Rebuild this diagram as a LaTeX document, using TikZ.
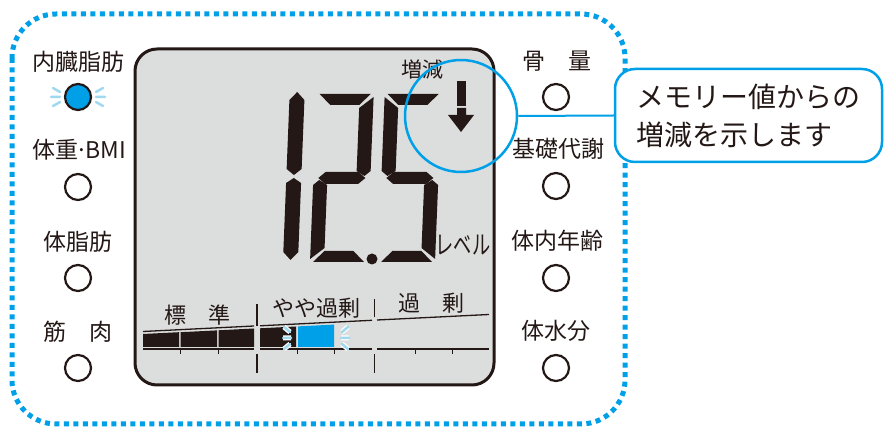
\documentclass[tikz,border=0pt]{standalone}
\usepackage{fontspec}
\setmainfont{Noto Sans CJK JP}
\usepackage{xcolor}
\definecolor{ink}{HTML}{231815}
\definecolor{sky}{HTML}{00A0E9}
\definecolor{glow}{HTML}{A0D8EF}
\definecolor{lcdgray}{HTML}{DCDDDD}

% seven-segment pieces (local frame: 57 wide, 168 high, origin bottom-left)
\newcommand{\digA}{\fill[seg] (3,-168) -- (54,-168) -- (43,-157) -- (14,-157) -- cycle;}
\newcommand{\digB}{\fill[seg] (57,-165) -- (57,-91) -- (51,-86) -- (43,-91) -- (43,-154) -- cycle;}
\newcommand{\digC}{\fill[seg] (57,-3) -- (57,-77) -- (51,-82) -- (43,-77) -- (43,-14) -- cycle;}
\newcommand{\digD}{\fill[seg] (3,0) -- (54,0) -- (43,-11) -- (14,-11) -- cycle;}
\newcommand{\digE}{\fill[seg] (0,-3) -- (0,-77) -- (6,-82) -- (14,-77) -- (14,-14) -- cycle;}
\newcommand{\digF}{\fill[seg] (0,-165) -- (0,-91) -- (6,-86) -- (14,-91) -- (14,-154) -- cycle;}
\newcommand{\digG}{\fill[seg] (5,-84) -- (12,-90) -- (45,-90) -- (52,-84) -- (45,-78) -- (12,-78) -- cycle;}

\begin{document}
\begin{tikzpicture}[x=1pt, y=-1pt,
  lbl/.style={font=\fontsize{23}{23}\selectfont, text=ink, inner sep=0pt},
  barlbl/.style={font=\fontsize{22}{22}\selectfont, text=ink, inner sep=0pt},
  lamp/.style={circle, draw=ink, line width=2.2pt, minimum size=26pt, inner sep=0pt},
  lens/.style={circle, draw=sky, line width=2.5pt, minimum size=112pt, inner sep=0pt},
  memo/.style={draw=sky, line width=2.5pt, rounded corners=20pt, fill=white,
               minimum width=267pt, minimum height=93pt, align=left, text=ink,
               font=\fontsize{28}{38}\selectfont},
  lcd/.style={draw=ink, line width=3pt, fill=lcdgray, rounded corners=22pt,
              minimum width=359pt, minimum height=336pt},
  seg/.style={fill=ink},
  glowray/.style={draw=glow, line width=2.5pt, line cap=round,
                  preaction={draw=white, line width=5pt}},
  dotframe/.style={draw=sky, line width=5pt, dash pattern=on 5pt off 4.5pt,
                   rounded corners=44pt}
]
  \useasboundingbox (0,0) rectangle (884,427);
  \draw[dotframe] (12,14) rectangle (625,424);

  % display panel
  \node[lcd] (lcd) at (314.5,217) {};

  % 1 2 . 5
  \begin{scope}[shift={(283,260)}, xslant=0.04]
    \fill[seg] (7.5,-168) -- (15,-160) -- (15,-91) -- (7.5,-85) -- (0,-91) -- (0,-160) -- cycle;
    \fill[seg] (7.5,-82) -- (15,-77) -- (15,-8) -- (7.5,0) -- (0,-8) -- (0,-77) -- cycle;
  \end{scope}
  \begin{scope}[shift={(310,262)}, xslant=0.04]
    \digA \digB \digG \digE \digD
  \end{scope}
  \begin{scope}[shift={(378,262)}, xslant=0.04]
    \digA \digF \digG \digC \digD
  \end{scope}
  \fill[seg] (372,259) circle (5.5pt);
  \node[barlbl, font=\fontsize{26}{26}\selectfont] (unit) at (463,245)
    {\scalebox{0.7}[1]{レベル}};

  % change indicator
  \node[barlbl, font=\fontsize{21}{21}\selectfont] (delta) at (422,70) {増減};
  \fill[seg] (457,81) rectangle (466,106.5);
  \fill[seg] (457,108) -- (466,108) -- (466,115) -- (474,115) -- (461,132)
    -- (448,115) -- (457,115) -- cycle;

  % level bar
  \fill[seg] (143,334) -- (179,332.2) -- (179,347) -- (143,347) -- cycle;
  \fill[seg] (180.5,332.2) -- (217,330.4) -- (217,347) -- (180.5,347) -- cycle;
  \fill[seg] (218.5,330.3) -- (254,328.5) -- (254,347) -- (218.5,347) -- cycle;
  \fill[seg] (260,328.3) -- (296,326.5) -- (296,347) -- (260,347) -- cycle;
  \fill[sky] (298,326.4) -- (334,324.6) -- (334,347) -- (298,347) -- cycle;
  \draw[ink, line width=1.3pt] (143,331.5) -- (254,326) (260,325.8) -- (372,320.3)
    (377,320) -- (489,314.5);
  \draw[ink, line width=2pt] (143,349.5) -- (254,349.5) (260,349.5) -- (372,349.5)
    (377,349.5) -- (489,349.5);
  \foreach \x in {180,218,297,334,415,452}
    \draw[ink, line width=1pt] (\x,349.5) -- (\x,354);
  \draw[ink, line width=1.5pt] (257,304) -- (257,326) (257,354) -- (257,373)
    (374.5,299) -- (374.5,317) (374.5,354) -- (374.5,373);
  \draw[glowray] (284,327) -- (290,332) (283,338) -- (291,338) (284,349) -- (290,344);
  \draw[glowray] (348,327) -- (342,332) (349,338) -- (341,338) (348,349) -- (342,344);
  \node[barlbl] (std) at (197,315) {標　準};
  \node[barlbl] (over1) at (316,308) {やや過剰};
  \node[barlbl] (over2) at (431,303) {過　剰};

  % left keys
  \node[lbl] (visc) at (78,62) {内臓脂肪};
  \node[lamp, fill=sky] (lvisc) at (78,97) {};
  \draw[glowray] (53,88) -- (60,92) (51,97) -- (60,97) (53,106) -- (60,102);
  \draw[glowray] (103,88) -- (96,92) (105,97) -- (96,97) (103,106) -- (96,102);
  \node[lbl] (bmi) at (79,150) {体重\kern-0.12em·\kern-0.12em BMI};
  \node[lamp] (lbmi) at (78,187) {};
  \node[lbl] (fat) at (78,242) {体脂肪};
  \node[lamp] (lfat) at (78,278) {};
  \node[lbl] (musc) at (78,332) {筋　肉};
  \node[lamp] (lmusc) at (78,368) {};

  % right keys
  \node[lbl] (bone) at (557,61) {骨　量};
  \node[lamp] (lbone) at (556,97) {};
  \node[lbl] (meta) at (558,149) {基礎代謝};
  \node[lamp] (lmeta) at (556,186) {};
  \node[lbl] (age) at (557,241) {体内年齢};
  \node[lamp] (lage) at (556,278) {};
  \node[lbl] (water) at (556,331) {体水分};
  \node[lamp] (lwater) at (556,368) {};

  % callout
  \node[lens] (lens) at (461,116) {};
  \node[memo] (memo) at (748.5,115.5) {メモリー値からの\\増減を示します};
  \draw[sky, line width=2pt] (lens.east) -- (memo.west);
\end{tikzpicture}
\end{document}
